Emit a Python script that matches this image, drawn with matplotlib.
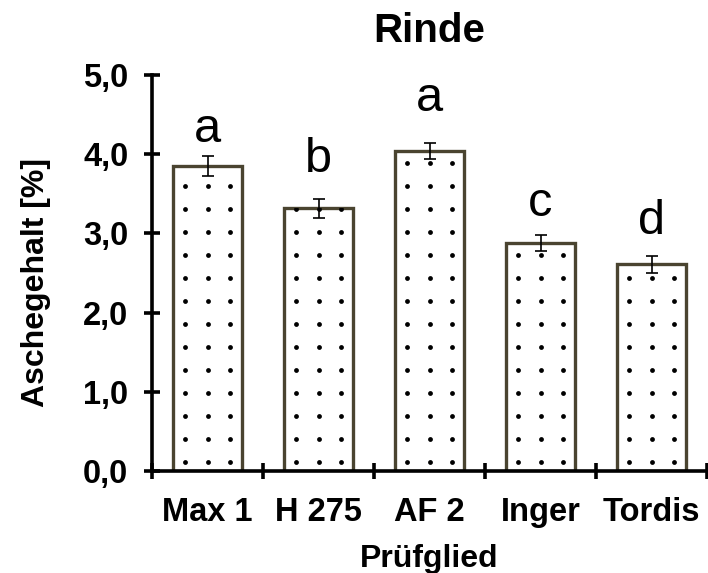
import numpy as np
import matplotlib.pyplot as plt

plt.rcParams['font.family'] = ['Liberation Sans', 'DejaVu Sans']

# Aschegehalt der Rinde je Prüfglied
sorten = ['Max 1', 'H 275', 'AF 2', 'Inger', 'Tordis']
asche = [3.85, 3.32, 4.04, 2.88, 2.61]
fehler = [0.126, 0.12, 0.10, 0.10, 0.11]
buchstaben = ['a', 'b', 'a', 'c', 'd']
buchstaben_y = [4.16, 3.78, 4.54, 3.22, 2.99]

edge = '#4a4430'

fig = plt.figure(figsize=(7.08, 5.73), dpi=100)
ax = fig.add_axes([0.2147, 0.178, 0.7839, 0.691])

x = np.arange(len(sorten))
bars = ax.bar(x, asche, width=0.63, color='white', edgecolor=edge, linewidth=2.4, zorder=2)
ax.errorbar(x, asche, yerr=fehler, fmt='none', ecolor='black', elinewidth=1.2,
            capsize=4.5, capthick=1.2, zorder=4)

# Punktraster in den Balken
dot_dx = np.array([-0.207, 0.0, 0.207])
dot_rows = np.arange(0.114, 5.0, 0.29)
for xi, b in zip(x, bars):
    gx, gy = np.meshgrid(xi + dot_dx, dot_rows)
    sc = ax.scatter(gx.ravel(), gy.ravel(), s=12, color='black', zorder=3, linewidths=0)
    sc.set_clip_path(b)

for xi, t, ty in zip(x, buchstaben, buchstaben_y):
    ax.text(xi, ty, t, ha='center', va='baseline', fontsize=35)

ax.set_xlim(-0.5, 4.5)
ax.set_ylim(0, 5)
ax.set_yticks(np.arange(0, 5.1, 1))
ax.set_yticklabels([f'{v:.1f}'.replace('.', ',') for v in np.arange(0, 5.1, 1)],
                   fontsize=23.5, fontweight='bold')
ax.set_xticks(x)
ax.set_xticklabels(sorten, fontsize=23.5, fontweight='bold')
ax.set_xticks(np.arange(-0.5, 5, 1), minor=True)
ax.tick_params(axis='x', which='major', length=0, pad=19)
ax.tick_params(axis='x', which='minor', direction='inout', length=12, width=2.6)
ax.tick_params(axis='y', direction='inout', length=12, width=2.6, pad=11)

for s in ['top', 'right']:
    ax.spines[s].set_visible(False)
for s in ['left', 'bottom']:
    ax.spines[s].set_linewidth(2.6)
    ax.spines[s].set_zorder(5)

ax.set_ylabel('Aschegehalt [%]', fontsize=23, fontweight='bold', labelpad=23)
ax.yaxis.label.set_y(0.477)
ax.set_xlabel('Prüfglied', fontsize=23, fontweight='bold', labelpad=11)
ax.set_title('Rinde', fontsize=29, fontweight='bold', pad=24)

fig.savefig('out.png', dpi=100)
